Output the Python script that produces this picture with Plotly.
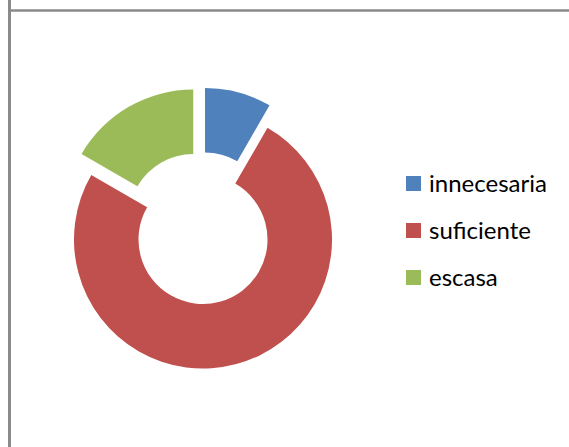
import plotly.graph_objects as go

labels = ["innecesaria", "suficiente", "escasa"]
values = [2, 18, 4]
colors = ["#4F81BD", "#C0504D", "#9BBB59"]
pulls = [0.12, 0.06, 0.12]

W, H = 569, 447

fig = go.Figure()
fig.add_trace(go.Pie(
    labels=labels, values=values,
    marker=dict(colors=colors, line=dict(width=0)),
    pull=pulls, hole=0.5,
    sort=False, direction="clockwise", rotation=0,
    textinfo="none", showlegend=False,
    domain=dict(x=[56.5 / W, 345.5 / W], y=[70.5 / H, 359.5 / H]),
))

# legend drawn by hand so the item spacing matches the original
shapes = []
annotations = []
for i, (lab, col) in enumerate(zip(labels, colors)):
    yc = 183.5 + 47 * i
    shapes.append(dict(
        type="rect", xref="paper", yref="paper",
        x0=406 / W, x1=421 / W, y0=1 - (yc + 7.5) / H, y1=1 - (yc - 7.5) / H,
        fillcolor=col, line=dict(width=0),
    ))
    annotations.append(dict(
        text=lab, xref="paper", yref="paper",
        x=427 / W, y=1 - (yc - 1) / H, xanchor="left", yanchor="middle",
        showarrow=False, font=dict(family="Lato", size=24, color="#000000"),
    ))

# chart-area frame (left and top edges visible in the crop)
shapes.append(dict(type="line", xref="paper", yref="paper",
                   x0=9.5 / W, x1=9.5 / W, y0=0, y1=1,
                   line=dict(color="#8a8a8a", width=3)))
shapes.append(dict(type="line", xref="paper", yref="paper",
                   x0=11 / W, x1=1, y0=1 - 10.5 / H, y1=1 - 10.5 / H,
                   line=dict(color="#8a8a8a", width=2.5)))

fig.update_layout(
    width=W, height=H,
    margin=dict(l=0, r=0, t=0, b=0),
    paper_bgcolor="white", plot_bgcolor="white",
    shapes=shapes, annotations=annotations,
    showlegend=False,
)

fig.write_html("out.html", config={"displayModeBar": False},
               post_script="document.body.style.margin='0';")
